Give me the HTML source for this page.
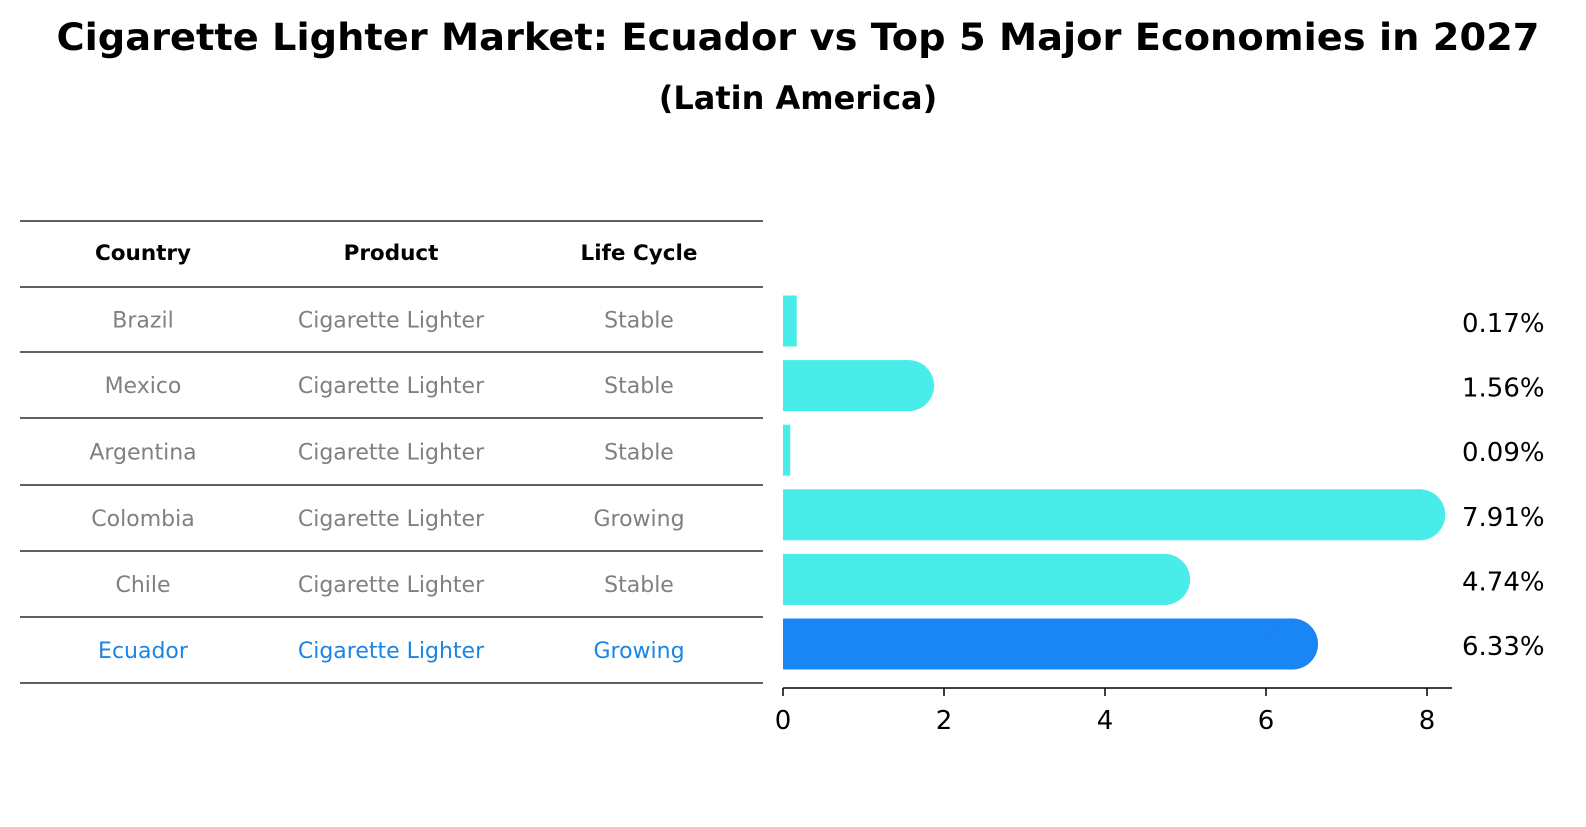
<!DOCTYPE html>
<html><head><meta charset="utf-8"><style>
body{margin:0;background:#fff;font-family:"DejaVu Sans","Liberation Sans",sans-serif;}
svg text{font-family:"DejaVu Sans","Liberation Sans",sans-serif;}
</style></head><body>
<svg id="chart" width="1586" height="823" xmlns="http://www.w3.org/2000/svg">
<rect width="1586" height="823" fill="#fff"/>
<text x="798" y="50" text-anchor="middle" font-size="37.5" font-weight="bold" textLength="1483" lengthAdjust="spacingAndGlyphs">Cigarette Lighter Market: Ecuador vs Top 5 Major Economies in 2027</text>
<text x="798" y="109" text-anchor="middle" font-size="32" font-weight="bold">(Latin America)</text>
<g id="table"></g>
<g id="bars"></g>
</svg>
<script>
const countries=["Brazil","Mexico","Argentina","Colombia","Chile","Ecuador"];
const products=["Cigarette Lighter","Cigarette Lighter","Cigarette Lighter","Cigarette Lighter","Cigarette Lighter","Cigarette Lighter"];
const lifeCycles=["Stable","Stable","Stable","Growing","Stable","Growing"];
const values=[0.17,1.56,0.09,7.91,4.74,6.33];
const xTicks=[0,2,4,6,8];
const NS="http://www.w3.org/2000/svg";
function mk(tag,attrs,parent){const e=document.createElementNS(NS,tag);for(const k in attrs)e.setAttribute(k,attrs[k]);parent.appendChild(e);return e;}
const x0=783,xScale=80.5;
const xPos=v=>x0+v*xScale;
const rowY=i=>321+i*64.6;
const tbl=document.getElementById('table');
const lineYs=[221,287,352,418,485,551,617,683];
lineYs.forEach(y=>{const l=mk('line',{x1:20,x2:763,y1:y,y2:y,stroke:'#000','stroke-width':1.3},tbl);

});
const colX=[143,391,639];
["Country","Product","Life Cycle"].forEach((h,j)=>{const t=mk('text',{x:colX[j],y:260,'text-anchor':'middle','font-size':21.5,'font-weight':'bold'},tbl);t.textContent=h;

});
countries.forEach((c,i)=>{const y=(lineYs[i+1]+lineYs[i+2])/2+8;const col=c==="Ecuador"?"#1a85e6":"#808080";
[c,products[i],lifeCycles[i]].forEach((v,j)=>{const t=mk('text',{x:colX[j],y:y,'text-anchor':'middle','font-size':22,fill:col},tbl);t.textContent=v;

});});
const g=document.getElementById('bars');
const h=51;
values.forEach((v,i)=>{const cy=rowY(i);const col=countries[i]==="Ecuador"?"#1a85f5":"#48ece9";const xe=xPos(v);
const r=mk('rect',{x:x0,y:cy-h/2,width:xe-x0,height:h,fill:col},g);


if(v>0.5){const c=mk('circle',{cx:xe,cy:cy,r:h/2,fill:col},g);

}
const t=mk('text',{x:1462,y:cy+11,'font-size':26},g);t.textContent=v.toFixed(2)+'%';

});
const ax=mk('line',{x1:x0,x2:1452,y1:688,y2:688,stroke:'#000','stroke-width':1.5},g);


xTicks.forEach(v=>{const tk=mk('line',{x1:xPos(v),x2:xPos(v),y1:688,y2:696,stroke:'#000','stroke-width':1.5},g);


const t=mk('text',{x:xPos(v),y:729,'text-anchor':'middle','font-size':26},g);t.textContent=v;

});
</script>
</body></html>
